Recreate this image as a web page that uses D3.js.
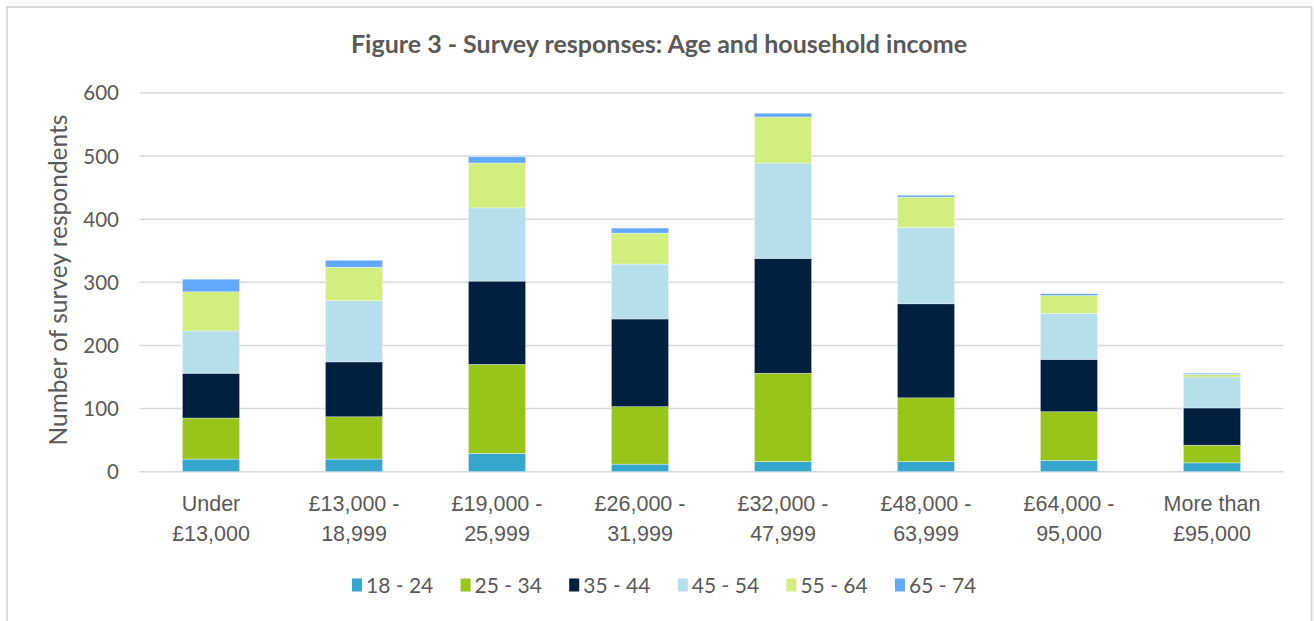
<!DOCTYPE html>
<html>
<head>
<meta charset="utf-8">
<script src="https://cdn.jsdelivr.net/npm/d3@7"></script>
<style>
  html, body { margin: 0; padding: 0; background: #fff; }
  svg { display: block; font-family: Lato, "Open Sans", sans-serif; }
</style>
</head>
<body>
<svg id="chart" width="1314" height="621"></svg>
<script>
// ---- data ----
const categories = [
  ["Under", "£13,000"],
  ["£13,000 -", "18,999"],
  ["£19,000 -", "25,999"],
  ["£26,000 -", "31,999"],
  ["£32,000 -", "47,999"],
  ["£48,000 -", "63,999"],
  ["£64,000 -", "95,000"],
  ["More than", "£95,000"]
];
const seriesNames = ["18 - 24", "25 - 34", "35 - 44", "45 - 54", "55 - 64", "65 - 74"];
const age18_24 = [20, 20, 29, 12, 16, 16, 18, 14];
const age25_34 = [65, 67, 141, 91, 140, 101, 77, 28];
const age35_44 = [71, 87, 132, 139, 182, 149, 83, 59];
const age45_54 = [67, 97, 116, 87, 151, 121, 73, 49];
const age55_64 = [62, 53, 71, 49, 73, 48, 28, 4];
const age65_74 = [20, 11, 10, 8, 6, 3, 3, 2];
const yTicks = [0, 100, 200, 300, 400, 500, 600];
const colors = ["#37a6cc", "#97c51a", "#00203f", "#b4dfeb", "#d1ee7e", "#62a9fc"];
const title = "Figure 3 - Survey responses: Age and household income";
const yTitle = "Number of survey respondents";

// ---- build table ----
const seriesValues = [age18_24, age25_34, age35_44, age45_54, age55_64, age65_74];
const keys = categories.map((c, i) => "c" + i);
const table = categories.map((c, i) => {
  const row = { key: keys[i] };
  seriesNames.forEach((s, j) => row[s] = seriesValues[j][i]);
  return row;
});
const stacked = d3.stack().keys(seriesNames)(table);

const svg = d3.select("#chart");
const textColor = "#595959";
const gridColor = "#d9d9d9";

// outer frame
svg.append("rect")
  .attr("x", 7).attr("y", 7).attr("width", 1304.5).attr("height", 640)
  .attr("fill", "#fff").attr("stroke", gridColor).attr("stroke-width", 2);

const x = d3.scaleBand().domain(keys).range([139.5, 1283.5]).paddingInner(0.6).paddingOuter(0.3);
const y = d3.scaleLinear().domain([0, 600]).range([471.7, 93]);

// gridlines
svg.append("g").selectAll("line").data(yTicks).join("line")
  .attr("x1", 139.5).attr("x2", 1283.5)
  .attr("y1", d => y(d)).attr("y2", d => y(d))
  .attr("stroke", gridColor).attr("stroke-width", 1.5);

// y axis labels via d3 axis
const yAxis = d3.axisLeft(y).tickValues(yTicks).tickSize(0).tickPadding(0);
const gy = svg.append("g").attr("transform", "translate(119,0)").call(yAxis);
gy.select(".domain").remove();
gy.selectAll("text").attr("fill", textColor).style("font-size", "20.5px")
  .style("font-family", "Lato, 'Open Sans', sans-serif").attr("dy", "0.34em");

// bars
svg.append("g").selectAll("g").data(stacked).join("g")
  .attr("fill", (d, i) => colors[i])
  .selectAll("rect").data(d => d).join("rect")
  .attr("x", d => x(d.data.key))
  .attr("width", x.bandwidth())
  .attr("y", d => y(d[1]))
  .attr("height", d => y(d[0]) - y(d[1]))
  .attr("stroke", "#ffffff").attr("stroke-width", 0.6).attr("stroke-opacity", 0.6);

// x axis labels
const xAxis = d3.axisBottom(x).tickSize(0).tickFormat(() => "");
const gx = svg.append("g").attr("transform", "translate(0,471.7)").call(xAxis);
gx.select(".domain").remove();
gx.selectAll(".tick").each(function(k, i) {
  const t = d3.select(this).append("text")
    .attr("fill", textColor).attr("text-anchor", "middle")
    .style("font-size", "21.5px");
  t.append("tspan").attr("x", 0).attr("y", 39).text(categories[i][0]);
  t.append("tspan").attr("x", 0).attr("y", 69).text(categories[i][1]);
});

// title
svg.append("text").attr("x", 659).attr("y", 53).attr("text-anchor", "middle")
  .attr("fill", textColor).style("font-size", "25px").style("font-weight", "bold")
  .text(title);

// y title
svg.append("text")
  .attr("transform", "translate(67,280) rotate(-90)")
  .attr("text-anchor", "middle").attr("fill", textColor)
  .style("font-size", "24.5px").text(yTitle);

// legend
const legendX = d3.scaleLinear().domain([0, seriesNames.length]).range([352, 352 + 108.6 * seriesNames.length]);
const lg = svg.append("g").selectAll("g").data(seriesNames).join("g")
  .attr("transform", (d, i) => `translate(${legendX(i)},0)`);
lg.append("rect").attr("x", 0).attr("y", 578.5).attr("width", 10).attr("height", 13)
  .attr("fill", (d, i) => colors[i]);
lg.append("text").attr("x", 14).attr("y", 592.5).attr("fill", textColor)
  .style("font-size", "21px").text(d => d);
</script>
</body>
</html>
